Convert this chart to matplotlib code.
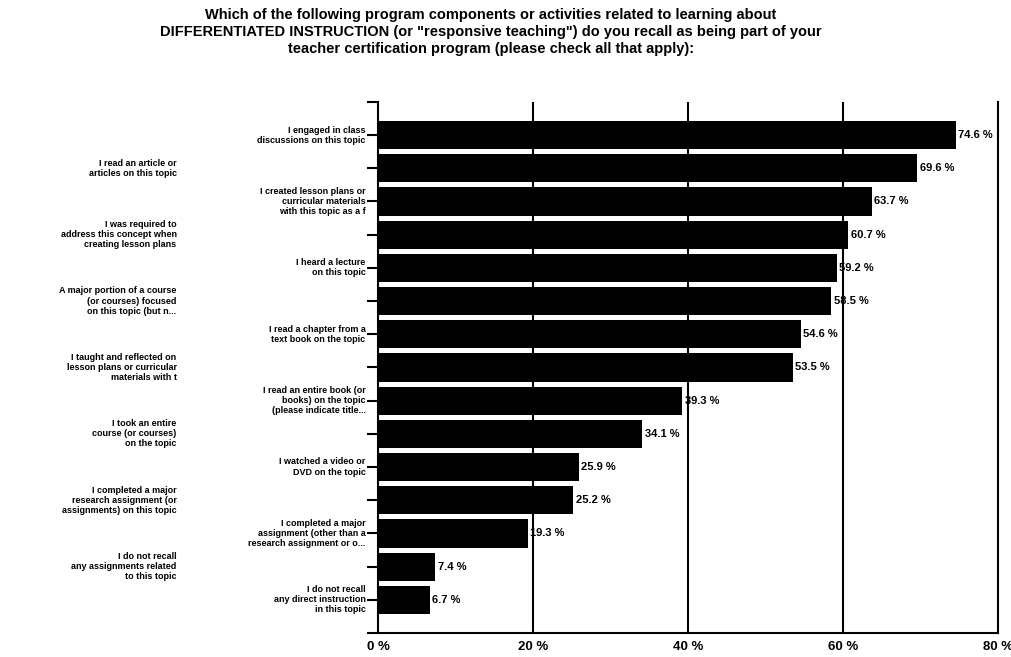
import matplotlib.pyplot as plt
import numpy as np

plt.rcParams['font.family'] = ['Liberation Sans', 'DejaVu Sans']

# ---------------------------------------------------- Data ---------------------------------------------------------- #
respostas = [
    "I engaged in class\ndiscussions on this topic",
    "I read an article or\narticles on this topic",
    "I created lesson plans or\ncurricular materials\nwith this topic as a f",
    "I was required to\naddress this concept when\ncreating lesson plans",
    "I heard a lecture\non this topic",
    "A major portion of a course\n(or courses) focused\non this topic (but n...",
    "I read a chapter from a\ntext book on the topic",
    "I taught and reflected on\nlesson plans or curricular\nmaterials with t",
    "I read an entire book (or\nbooks) on the topic\n(please indicate title...",
    "I took an entire\ncourse (or courses)\non the topic",
    "I watched a video or\nDVD on the topic",
    "I completed a major\nresearch assignment (or\nassignments) on this topic",
    "I completed a major\nassignment (other than a\nresearch assignment or o...",
    "I do not recall\nany assignments related\nto this topic",
    "I do not recall\nany direct instruction\nin this topic",
]
percentuais = [74.6, 69.6, 63.7, 60.7, 59.2, 58.5, 54.6, 53.5, 39.3, 34.1, 25.9, 25.2, 19.3, 7.4, 6.7]
xticks = [0, 20, 40, 60, 80]

titulo = ("Which of the following program components or activities related to learning about\n"
          "DIFFERENTIATED INSTRUCTION (or \"responsive teaching\") do you recall as being part of your\n"
          "teacher certification program (please check all that apply):")

# ------------------------------------------------- Bar Graph -------------------------------------------------------- #
fig = plt.figure(figsize=(10.12, 6.57), dpi=100)
ax = fig.add_axes([0.3735, 0.0365, 0.6125, 0.8085])

y = np.arange(len(percentuais))
ax.barh(y, percentuais, height=0.85, color='black', zorder=3)
ax.set_ylim(len(percentuais), -1)
ax.set_xlim(0, 80)

for xv in [20, 40, 60]:
    ax.axvline(xv, color='black', lw=1.5, zorder=1)

for i, v in enumerate(percentuais):
    ax.text(v + 0.3, i, "%.1f %%" % v, va='center', ha='left', fontsize=8,
            fontweight='bold', color='black', zorder=4)

ax.set_yticks(np.arange(-1, len(percentuais) + 1))
ax.set_yticklabels([])
ax.tick_params(axis='y', length=8, width=1.5, direction='out')
ax.tick_params(axis='x', length=0, pad=6)
ax.set_xticks(xticks)
ax.set_xticklabels(["%d %%" % t for t in xticks], fontsize=9.5, fontweight='bold')

# rótulos alternados em duas colunas
for i, r in enumerate(respostas):
    xpos = -1.6 if i % 2 == 0 else -26.0
    ax.text(xpos, i, r, ha='right', va='center', fontsize=6.5, fontweight='bold',
            linespacing=1.15, transform=ax.transData, clip_on=False)

ax.spines['top'].set_visible(False)
for s in ['left', 'bottom', 'right']:
    ax.spines[s].set_linewidth(1.5)

fig.text(0.485, 0.988, titulo, ha='center', va='top', fontsize=10.5, fontweight='bold',
         linespacing=1.3)

fig.savefig('out.png', dpi=100)
